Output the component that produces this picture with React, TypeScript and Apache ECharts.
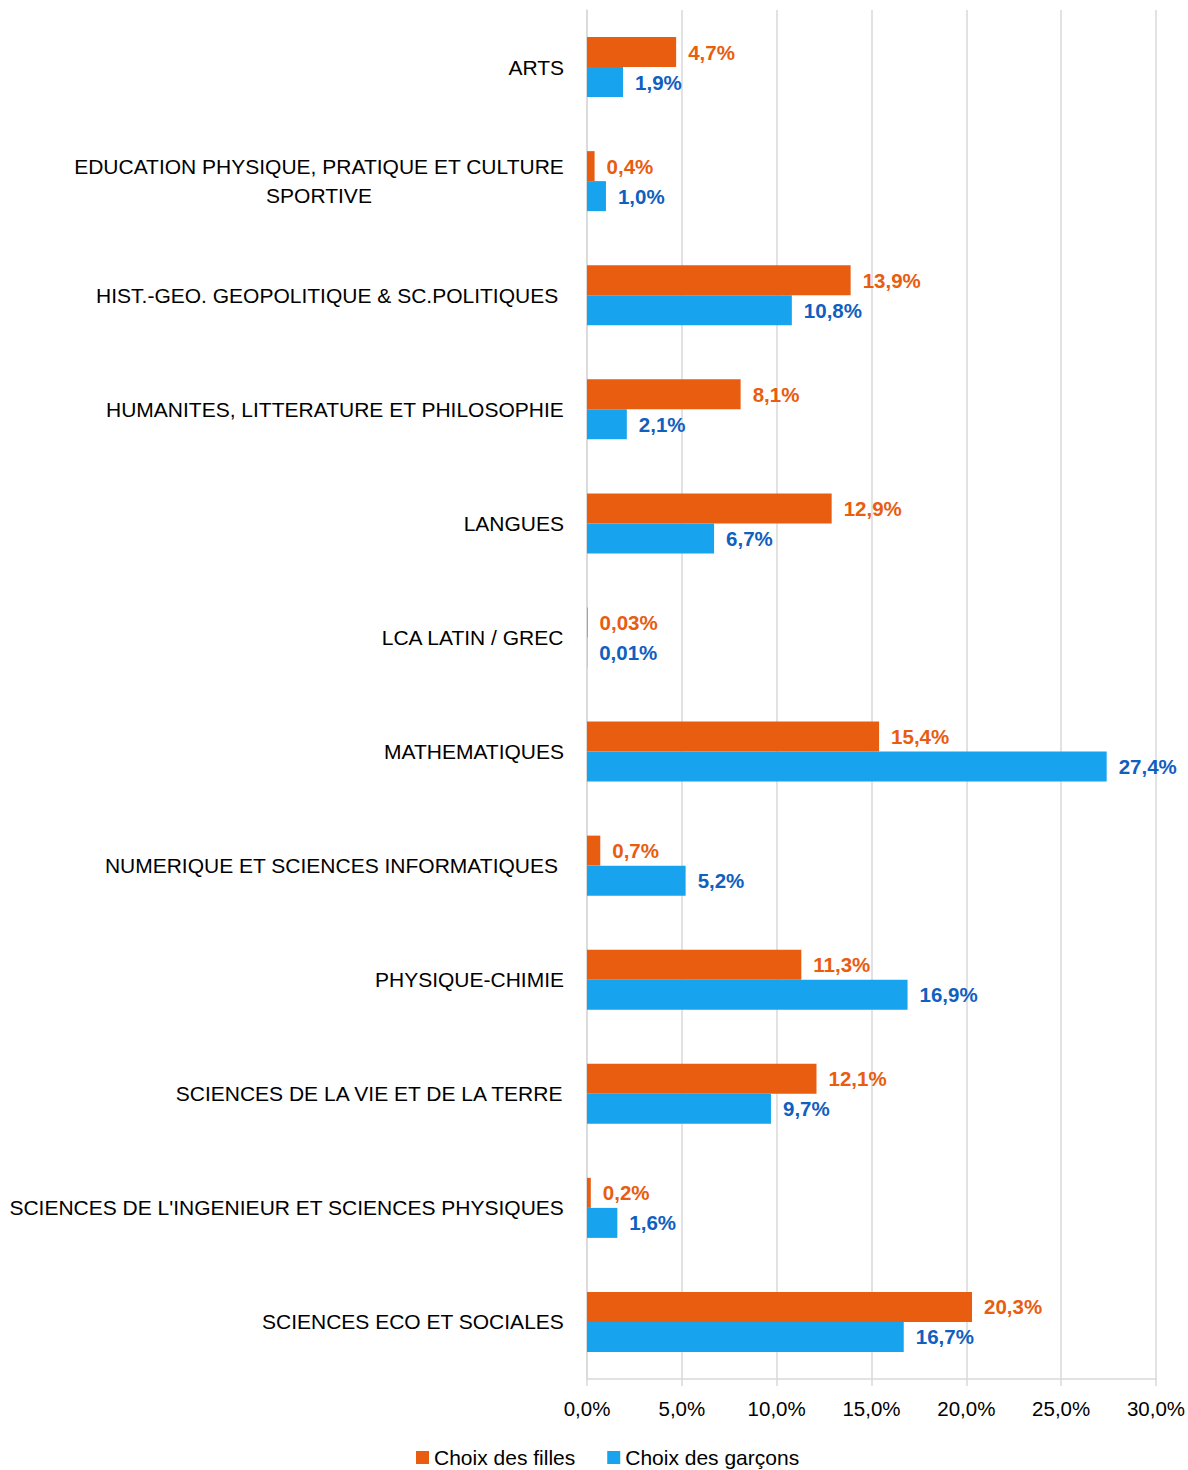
import React, { useEffect, useRef } from "react";
import * as echarts from "echarts";

const categories = [
  "ARTS",
  "EDUCATION PHYSIQUE, PRATIQUE ET CULTURE\nSPORTIVE",
  "HIST.-GEO. GEOPOLITIQUE & SC.POLITIQUES ",
  "HUMANITES, LITTERATURE ET PHILOSOPHIE",
  "LANGUES",
  "LCA LATIN / GREC",
  "MATHEMATIQUES",
  "NUMERIQUE ET SCIENCES INFORMATIQUES ",
  "PHYSIQUE-CHIMIE",
  "SCIENCES DE LA VIE ET DE LA TERRE",
  "SCIENCES DE L'INGENIEUR ET SCIENCES PHYSIQUES",
  "SCIENCES ECO ET SOCIALES",
];
const filles = [4.7, 0.4, 13.9, 8.1, 12.9, 0.03, 15.4, 0.7, 11.3, 12.1, 0.2, 20.3];
const garcons = [1.9, 1.0, 10.8, 2.1, 6.7, 0.01, 27.4, 5.2, 16.9, 9.7, 1.6, 16.7];
const seriesNames = ["Choix des filles", "Choix des garçons"];
const xTicks = { min: 0, max: 30, interval: 5 };

const FONT = "'Liberation Sans Narrow', 'Arial Narrow', 'Liberation Sans', sans-serif";

const fmtVal = (v: number) =>
  (v < 0.1 ? v.toFixed(2) : v.toFixed(1)).replace(".", ",") + "%";

export default function App() {
  const ref = useRef<HTMLDivElement>(null);
  useEffect(() => {
    const chart = echarts.init(ref.current!, null, { renderer: "svg" });
    chart.setOption({
      animation: false,
      backgroundColor: "#ffffff",
      grid: {
        left: 587,
        right: 32,
        top: 10,
        bottom: 91,
        containLabel: false,
        outerBoundsMode: "none",
      },
      legend: {
        bottom: -3,
        left: 411,
        itemWidth: 13,
        itemHeight: 13,
        itemGap: 32,
        icon: "rect",
        textStyle: { fontFamily: FONT, fontSize: 21, color: "#000" },
        data: seriesNames,
      },
      xAxis: {
        type: "value",
        min: xTicks.min,
        max: xTicks.max,
        interval: xTicks.interval,
        axisLine: { show: true, lineStyle: { color: "#d9d9d9", width: 1.5 } },
        axisTick: { show: true, length: 7, lineStyle: { color: "#d9d9d9", width: 1.5 } },
        splitLine: { show: true, lineStyle: { color: "#d9d9d9", width: 1.5 } },
        axisLabel: {
          fontFamily: FONT,
          fontSize: 20.5,
          color: "#000",
          margin: 19,
          formatter: (v: number) => v.toFixed(1).replace(".", ",") + "%",
        },
      },
      yAxis: {
        type: "category",
        inverse: true,
        data: categories,
        axisLine: { show: true, lineStyle: { color: "#d9d9d9", width: 1.5 } },
        axisTick: { show: false },
        axisLabel: {
          fontFamily: FONT,
          fontSize: 21,
          color: "#000",
          margin: 23,
          align: "right",
          lineHeight: 29,
          formatter: (v: string) =>
            v
              .split("\n")
              .map((line) => "{c|" + line + "}")
              .join("\n"),
          rich: {
            c: {
              fontFamily: FONT,
              fontSize: 21,
              color: "#000",
              lineHeight: 29,
              align: "center",
            },
          },
        },
      },
      series: [
        {
          name: seriesNames[0],
          type: "bar",
          data: filles,
          barWidth: 30,
          barGap: "0%",
          itemStyle: { color: "#E85D10" },
          label: {
            show: true,
            position: "right",
            distance: 12,
            fontFamily: FONT,
            fontSize: 20.5,
            fontWeight: "bold",
            color: "#E85D10",
            formatter: (p: any) => fmtVal(p.value),
          },
        },
        {
          name: seriesNames[1],
          type: "bar",
          data: garcons,
          barWidth: 30,
          barGap: "0%",
          itemStyle: { color: "#18A3EE" },
          label: {
            show: true,
            position: "right",
            distance: 12,
            fontFamily: FONT,
            fontSize: 20.5,
            fontWeight: "bold",
            color: "#1060C0",
            formatter: (p: any) => fmtVal(p.value),
          },
        },
      ],
    });
    return () => chart.dispose();
  }, []);
  return (
    <div
      ref={ref}
      style={{ position: "absolute", left: 0, top: 0, width: 1188, height: 1470 }}
    />
  );
}
